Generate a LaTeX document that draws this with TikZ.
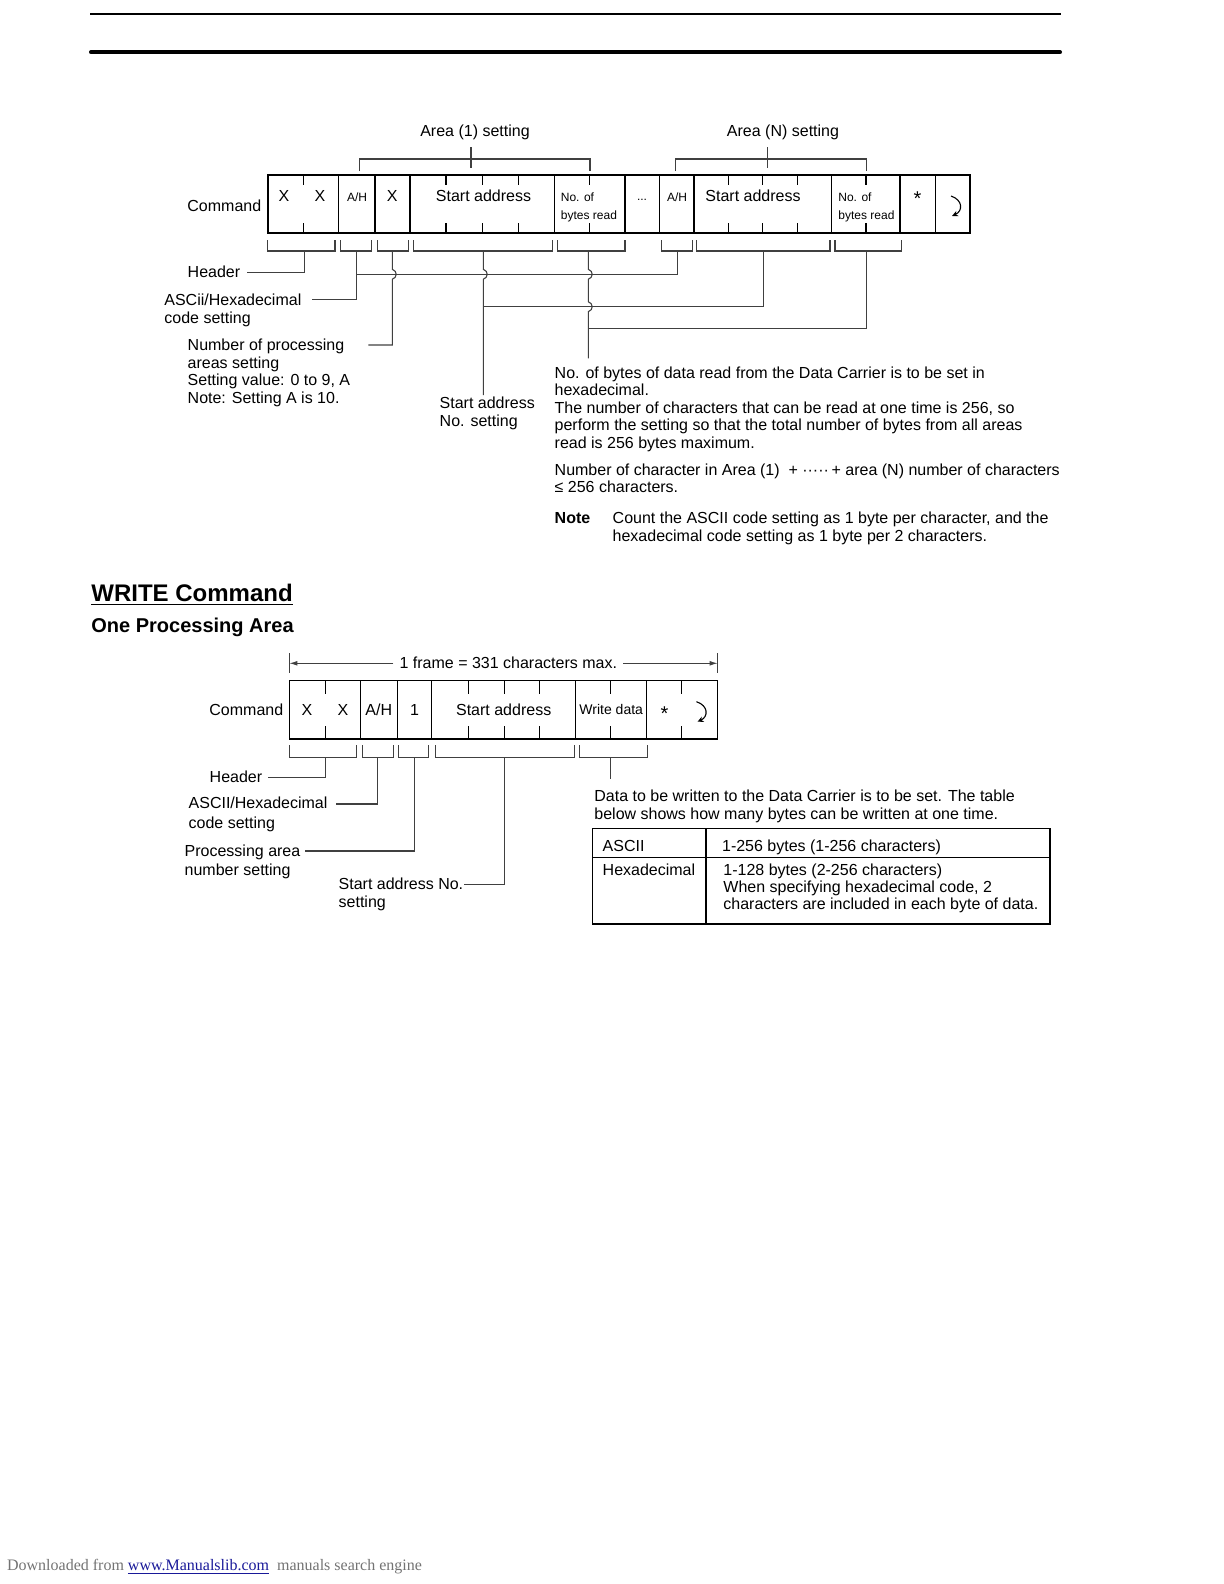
\documentclass[tikz,border=0pt]{standalone}
\usepackage{fontspec}
\setmainfont{Liberation Sans}
\newfontfamily\footserif{Liberation Serif}
\usetikzlibrary{arrows.meta}
\newcommand\fA{\fontsize{8}{8.8}\selectfont}
\newcommand\fS{\fontsize{6}{9}\selectfont}
\newcommand\fW{\fontsize{7}{8}\selectfont}
\definecolor{linkblue}{rgb}{0.1,0.1,0.6}
\definecolor{footgray}{gray}{0.45}
\definecolor{connc}{gray}{0.25}
\tikzset{
  boxline/.style={draw=black, line width=0.6pt},
  conn/.style={draw=connc, line width=0.55pt},
  txt/.style={inner sep=0pt, font=\fA},
  small/.style={inner sep=0pt, font=\fS},
  aster/.style={inner sep=0pt, font=\fontsize{10}{10}\selectfont},
  retsym/.pic={\draw[line width=0.55pt, -{Stealth[length=3pt,width=2.8pt]}] (-4,-10) .. controls (8,-6) and (8,5) .. (-3,10);}
}
\begin{document}
\begin{tikzpicture}[x=0.5pt,y=-0.5pt]
\useasboundingbox (0,0) rectangle (1224,1584);

% top rules
\coordinate (ruleAL) at (90,14); \coordinate (ruleAR) at (1061,14);
\coordinate (ruleBL) at (91,52.3); \coordinate (ruleBR) at (1060,52.3);
\draw[line width=1pt] (ruleAL) -- (ruleAR);
\draw[line width=2pt, line cap=round] (ruleBL) -- (ruleBR);

% ================= READ command frame =================
\node[txt, anchor=base] (area1) at (475,136.2) {Area (1) setting};
\node[txt, anchor=base] (areaN) at (783,136.5) {Area (N) setting};
\draw[conn] (359.3,171) -- (359.3,159) -- (590,159) -- (590,171);
\draw[conn] (675.3,171) -- (675.3,159) -- (866.7,159) -- (866.7,171);
\coordinate (a1t) at (471,147); \coordinate (a1b) at (471,168);
\coordinate (aNt) at (767.7,147); \coordinate (aNb) at (767.7,168);
\draw[conn] (a1t) -- (a1b);
\draw[conn] (aNt) -- (aNb);

\node[txt, anchor=base west] (cmdR) at (187,211) {Command};
\draw[boxline] (268,175) rectangle (970,233);
\foreach \x in {338.5,375,410,554.5,625,659.5,694,831.5,900,935.5}
  \draw[boxline] (\x,175) -- (\x,233);
\foreach \x in {303.3,446,482.3,518.2,589.5,728.4,762.8,797.1,866}
  {\draw[boxline] (\x,175) -- (\x,185); \draw[boxline] (\x,223) -- (\x,233);}

\node[txt, anchor=base] (rx1) at (284,201) {X};
\node[txt, anchor=base] (rx2) at (320,201) {X};
\node[small, anchor=base] (rah1) at (357,201) {A/H};
\node[txt, anchor=base] (rx3) at (392.3,201) {X};
\node[txt, anchor=base] (rsa1) at (483.5,201) {Start address};
\node[small, anchor=base west, align=left] (rnb1) at (560.5,219) {No. of\\bytes read};
\node[small, anchor=base] (rdots) at (642,200) {...};
\node[small, anchor=base] (rah2) at (677,201) {A/H};
\node[txt, anchor=base] (rsa2) at (753,201) {Start address};
\node[small, anchor=base west, align=left] (rnb2) at (838,219) {No. of\\bytes read};
\node[aster, anchor=base] (rast) at (917.5,205) {*};
\pic at (955,206) {retsym};

% brackets below
\foreach \a/\b in {267.6/335,340.7/371.3,377.3/408.3,413.3/552.3,557.3/625,661.7/692.3,696.3/830,835/901.7}
  \draw[conn] (\a,240) -- (\a,251) -- (\b,251) -- (\b,240);

\coordinate (rs1) at (304.3,251); \coordinate (rs2) at (356.7,251);
\coordinate (rs3) at (392.3,251); \coordinate (rs4) at (483.3,251);
\coordinate (rs5) at (588.3,251); \coordinate (rs6) at (677.3,251);
\coordinate (rs7) at (763.3,251); \coordinate (rs8) at (866.7,251);
\coordinate (hdrEnd) at (246.7,272.3);
\coordinate (ascEnd) at (312.3,299.3);
\coordinate (npEnd) at (368.3,345);
\coordinate (saEnd) at (483.3,395);
\coordinate (nbEnd) at (588.3,358.3);
\coordinate (h1s) at (356.7,274.3);
\coordinate (h2s) at (483.3,306.7);
\coordinate (h3s) at (588.3,328.3);

\draw[conn] (rs1) |- (hdrEnd);
\draw[conn] (rs2) |- (ascEnd);
\draw[conn] (h1s) -| (rs6);
\draw[conn] (h2s) -| (rs7);
\draw[conn] (h3s) -| (rs8);
\draw[conn] (rs3) -- (392.3,269.3) .. controls (397.5,271) and (397.5,277.6) .. (392.3,279.3) |- (npEnd);
\draw[conn] (rs4) -- (483.3,269.3) .. controls (488.5,271) and (488.5,277.6) .. (483.3,279.3) -- (saEnd);
\draw[conn] (rs5) -- (588.3,269.3) .. controls (593.5,271) and (593.5,277.6) .. (588.3,279.3)
   -- (588.3,301.7) .. controls (593.5,303.4) and (593.5,310) .. (588.3,311.7) -- (nbEnd);

\node[txt, anchor=base west] (lhdr) at (187.3,277) {Header};
\node[txt, anchor=base west, align=left] (lasc) at (164,323.3) {ASCii/Hexadecimal\\code setting};
\node[txt, anchor=base west, align=left] (lnp) at (187.3,403.3) {Number of processing\\areas setting\\Setting value: 0 to 9, A\\Note: Setting A is 10.};
\node[txt, anchor=base west, align=left, font=\fontsize{8}{9.2}\selectfont] (lsa) at (439.3,426.7) {Start address\\No. setting};

\node[txt, anchor=base west, align=left] (para1) at (554.3,448.5) {No. of bytes of data read from the Data Carrier is to be set in\\hexadecimal.\\The number of characters that can be read at one time is 256, so\\perform the setting so that the total number of bytes from all areas\\read is 256 bytes maximum.};
\node[txt, anchor=base west, align=left, font=\fontsize{8}{8.65}\selectfont] (para2) at (554.3,492.3) {Number of character in Area (1)\ \ + ·····\,+ area (N) number of characters\\≤ 256 characters.};
\node[txt, anchor=base west, font=\fA\bfseries] (notelbl) at (554.3,523.3) {Note};
\node[txt, anchor=base west, align=left, font=\fontsize{8}{9.2}\selectfont] (notetxt) at (612.3,541.7) {Count the ASCII code setting as 1 byte per character, and the\\hexadecimal code setting as 1 byte per 2 characters.};

% ================= WRITE command =================
\node[inner sep=0pt, anchor=base west, font=\fontsize{12}{14}\selectfont\bfseries] (wrhead) at (91,601) {\underline{WRITE Command}};
\node[inner sep=0pt, anchor=base west, font=\fontsize{10}{12}\selectfont\bfseries] (wrsub) at (91,632) {One Processing Area};

\coordinate (fL) at (289.3,663.3); \coordinate (fR) at (717.7,663.3);
\coordinate (fLa) at (393.3,663.3); \coordinate (fRa) at (623.3,663.3);
\draw[conn] (289.3,653) -- (289.3,673);
\draw[conn] (717.7,653) -- (717.7,673);
\node[txt, anchor=base] (frame) at (508.3,668.3) {1 frame = 331 characters max.};
\draw[conn, -{Latex[length=4pt,width=2.4pt]}] (fLa) -- (fL);
\draw[conn, -{Latex[length=4pt,width=2.4pt]}] (fRa) -- (fR);

\node[txt, anchor=base west] (cmdW) at (209,715) {Command};
\draw[boxline] (289.3,680.7) rectangle (717.7,739);
\foreach \x in {360.3,397.3,431.7,575.7,646.7}
  \draw[boxline] (\x,680.7) -- (\x,739);
\foreach \x in {325.7,468.3,504.3,539.3,610.7,681.7}
  {\draw[boxline] (\x,680.7) -- (\x,693.5); \draw[boxline] (\x,726) -- (\x,739);}

\node[txt, anchor=base] (wx1) at (307,715) {X};
\node[txt, anchor=base] (wx2) at (343,715) {X};
\node[txt, anchor=base] (wah) at (378.8,715) {A/H};
\node[txt, anchor=base] (wone) at (414.5,715) {1};
\node[txt, anchor=base] (wsa) at (503.7,715) {Start address};
\node[inner sep=0pt, font=\fW, anchor=base] (wwd) at (611.2,714.5) {Write data};
\node[aster, anchor=base] (wast) at (664.5,720) {*};
\pic at (700.5,711.7) {retsym};

\foreach \a/\b in {289.3/356.7,362.3/393.3,398.7/428.7,435.3/574.3,579.3/647.3}
  \draw[conn] (\a,745) -- (\a,757.3) -- (\b,757.3) -- (\b,745);

\coordinate (ws1) at (325.7,757.3); \coordinate (ws2) at (377.7,757.3);
\coordinate (ws3) at (414.3,757.3); \coordinate (ws4) at (504.3,757.3);
\coordinate (ws5) at (610.7,757.3);
\coordinate (wHdrEnd) at (268.3,777.7);
\coordinate (wAscEnd) at (336,804);
\coordinate (wPaEnd) at (305,851);
\coordinate (wSaEnd) at (464,884.3);
\coordinate (wWdEnd) at (610.7,779);
\draw[conn] (ws1) |- (wHdrEnd);
\draw[conn] (ws2) |- (wAscEnd);
\draw[conn] (ws3) |- (wPaEnd);
\draw[conn] (ws4) |- (wSaEnd);
\draw[conn] (ws5) -- (wWdEnd);

\node[txt, anchor=base west] (whdr) at (209.3,782.7) {Header};
\node[txt, anchor=base west, align=left, font=\fontsize{8}{9.6}\selectfont] (wasc) at (188.3,828) {ASCII/Hexadecimal\\code setting};
\node[txt, anchor=base west, align=left, font=\fontsize{8}{9.5}\selectfont] (wpa) at (184.3,875) {Processing area\\number setting};
\node[txt, anchor=base west, align=left, font=\fontsize{8}{9}\selectfont] (wsal) at (338.3,907.3) {Start address No.\\setting};

\node[txt, anchor=base west, align=left, font=\fontsize{8}{9}\selectfont] (wdata) at (594,819.5) {Data to be written to the Data Carrier is to be set. The table\\below shows how many bytes can be written at one time.};
\draw[boxline] (592.7,828.3) rectangle (1050,924);
\draw[boxline] (592.7,857.3) -- (1050,857.3);
\draw[boxline] (706,828.3) -- (706,924);
\node[txt, anchor=base west] (tasc) at (602.3,851) {ASCII};
\node[txt, anchor=base west] (tascv) at (721.7,851) {1-256 bytes (1-256 characters)};
\node[txt, anchor=base west] (thex) at (602.3,875) {Hexadecimal};
\node[txt, anchor=base west, align=left, font=\fontsize{8}{8.6}\selectfont] (thexv) at (723,909.4) {1-128 bytes (2-256 characters)\\When specifying hexadecimal code, 2\\characters are included in each byte of data.};

% footer
\node[inner sep=0pt, anchor=base west, font=\footserif\fontsize{8}{9}\selectfont, text=footgray] (foot) at (6.7,1570) {Downloaded from \textcolor{linkblue}{\underline{www.Manualslib.com}}\ \ manuals search engine};
\end{tikzpicture}
\end{document}
